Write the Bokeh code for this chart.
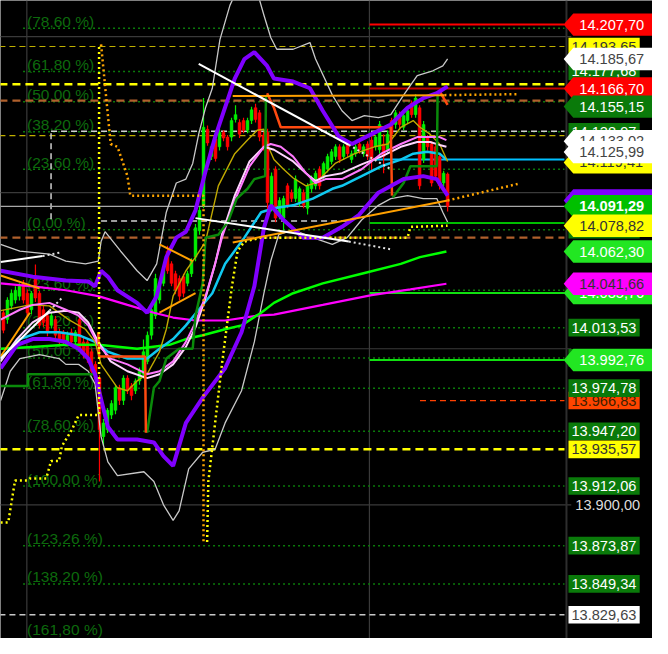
from bokeh.plotting import figure
from bokeh.embed import file_html
from bokeh.resources import INLINE
from bokeh.core.properties import value
from bokeh.models import ColumnDataSource

# ---------------- data (bar index, price) ----------------
opens = [14023.1, 14018.7, 14027.5, 14031.2, 14033.7, 14041.9, 14035.6, 14025.0, 14045.0, 14035.6,
         14025.0, 14021.2, 14015.0, 14018.7, 14010.6, 14010.6, 14004.4, 14010.6, 14004.4, 14018.7,
         14004.4, 14004.4, 13998.1, 13990.0, 13981.2, 13943.7, 13948.1, 13957.5, 13960.6, 13975.0,
         13966.9, 13981.2, 13976.2, 13973.1, 13979.4, 13983.7, 13991.9, 14008.7, 14021.2, 14031.2,
         14041.9, 14062.5, 14054.4, 14048.1, 14045.0, 14046.2, 14041.9, 14048.1, 14058.7, 14075.6,
         14091.9, 14140.6, 14123.1, 14134.4, 14129.4, 14138.7, 14135.6, 14135.6, 14146.9, 14145.0,
         14146.2, 14140.0, 14146.2, 14154.4, 14151.2, 14136.9, 14138.7, 14090.0, 14115.0, 14085.6,
         14083.7, 14104.4, 14100.0, 14096.2, 14093.7, 14100.0, 14090.0, 14102.5, 14104.4, 14115.0,
         14110.6, 14115.0, 14120.0, 14123.1, 14129.4, 14123.1, 14131.2, 14121.2, 14125.0, 14131.2,
         14125.0, 14131.2, 14133.7, 14129.4, 14127.5, 14131.2, 14127.5, 14146.2, 14143.7, 14150.0,
         14141.9, 14146.2, 14157.5, 14150.0, 14154.4, 14121.2, 14135.6, 14131.2, 14129.4, 14123.1,
         14106.2, 14111.9]
closes = [14011.9, 14031.2, 14035.6, 14037.5, 14040.0, 14031.2, 14023.1, 14035.6, 14032.5, 14015.0,
          14016.9, 14010.6, 14021.2, 14008.7, 14004.4, 14004.4, 14008.7, 14004.4, 14010.6, 14000.0,
          13996.2, 13993.7, 13985.6, 13981.2, 13948.1, 13952.5, 13960.6, 13965.0, 13975.0, 13966.9,
          13981.2, 13973.1, 13970.0, 13979.4, 13985.6, 13998.1, 14008.7, 14025.0, 14045.0, 14040.0,
          14050.0, 14050.0, 14041.9, 14037.5, 14033.7, 14035.6, 14048.1, 14056.2, 14077.5, 14088.7,
          14141.9, 14131.9, 14129.4, 14121.9, 14138.7, 14135.0, 14129.4, 14146.2, 14150.0, 14137.5,
          14140.0, 14146.2, 14153.1, 14146.9, 14135.6, 14129.4, 14093.7, 14110.6, 14083.7, 14095.0,
          14096.2, 14091.9, 14096.2, 14108.7, 14102.5, 14091.9, 14104.4, 14109.4, 14112.5, 14104.4,
          14118.7, 14123.1, 14126.2, 14129.4, 14121.2, 14129.4, 14125.0, 14125.0, 14129.4, 14127.5,
          14129.4, 14123.1, 14121.2, 14135.6, 14143.7, 14123.1, 14137.5, 14137.5, 14151.2, 14143.7,
          14149.4, 14152.5, 14150.0, 14160.6, 14104.4, 14143.7, 14129.4, 14106.2, 14110.6, 14104.4,
          14112.5, 14091.29]
highs = [14025, 14033, 14038, 14040, 14042, 14044, 14038, 14037, 14054, 14037,
         14028, 14023, 14023, 14021, 14013, 14012, 14011, 14013, 14012, 14021,
         14007, 14006, 14000, 13992, 13983, 13955, 13962, 13967, 13977, 13977,
         13983, 13983, 13978, 13981, 13988, 14006, 14011, 14027, 14048, 14042,
         14052, 14066, 14056, 14050, 14047, 14048, 14050, 14058, 14080, 14091,
         14160.6, 14143, 14131, 14136, 14141, 14140, 14137, 14148, 14156, 14147,
         14148, 14148, 14155, 14157, 14153, 14139, 14141, 14113, 14117, 14097,
         14098, 14106, 14102, 14111, 14104, 14102, 14106, 14111, 14114, 14117,
         14120, 14125, 14128, 14131, 14131, 14131, 14133, 14127, 14131, 14133,
         14131, 14133, 14136, 14137, 14146, 14137.5, 14140, 14148, 14153, 14152,
         14151, 14155, 14159, 14163, 14156, 14146, 14137, 14133, 14131, 14125,
         14114, 14113]
lows = [14010, 14016, 14025, 14029, 14031, 14029, 14021, 14022, 14030, 14013,
        14014, 14008, 14013, 14006, 14002, 14003, 14002, 14002, 14002, 13998,
        13994, 13991, 13983, 13979, 13915, 13938, 13946, 13955, 13958, 13964,
        13964, 13971, 13967, 13971, 13977, 13981, 13990, 14006, 14019, 14029,
        14040, 14048, 14040, 14035, 14031, 14033, 14040, 14046, 14056, 14073,
        14090, 14130, 14121, 14120, 14127, 14133, 14127, 14133, 14145, 14135,
        14138, 14138, 14144, 14145, 14133, 14127, 14088.7, 14088, 14081, 14083,
        14076, 14090, 14094, 14094, 14091, 14090, 14086, 14100, 14102, 14102,
        14108, 14113, 14118, 14121, 14119, 14121, 14123, 14119, 14123, 14125,
        14123, 14121, 14114, 14127, 14125, 14112.5, 14125, 14135, 14141, 14141,
        14140, 14144, 14148, 14148, 14102, 14119, 14127, 14104, 14108, 14102,
        14104, 14088]
bars = list(range(len(opens)))

# indicator curves (bar index, price)
pu_x = [-0.7, 7.3, 15.6, 21.2, 22.9, 24.4, 26.1, 28.5, 33.4, 35.9, 38.3, 40.7, 43.2, 45.6, 48.0, 50.5, 52.9, 57.8, 60.2, 62.7, 65.9, 67.6, 72.4, 76.6, 79.8, 83.9, 87.1, 92.0, 96.8, 101.0, 104.9, 108.3, 111.0]
pu_y = [14050.0, 14046.2, 14043.7, 14043.1, 14040.0, 14050.0, 14046.2, 14037.5, 14029.4, 14023.1, 14033.7, 14058.7, 14071.2, 14075.0, 14088.7, 14113.7, 14135.6, 14173.1, 14185.6, 14190.0, 14181.2, 14173.1, 14171.2, 14166.9, 14152.5, 14135.6, 14131.2, 14137.5, 14143.7, 14154.4, 14160.6, 14163.7, 14168.1]
pl_x = [-0.7, 3.4, 7.3, 11.5, 15.6, 18.8, 21.2, 22.9, 23.7, 26.1, 28.5, 33.4, 37.6, 40.0, 42.4, 45.6, 49.8, 55.4, 59.5, 62.7, 65.1, 66.8, 70.0, 74.9, 79.8, 84.6, 88.8, 93.7, 100.0, 104.9, 108.3, 111.0]
pl_y = [13987.5, 14002.5, 14006.2, 14006.2, 14004.4, 14000.0, 13993.7, 13983.7, 13975.0, 13950.0, 13941.9, 13941.9, 13940.0, 13931.2, 13925.0, 13952.5, 13968.7, 13987.5, 14010.6, 14040.0, 14077.5, 14091.9, 14082.5, 14071.2, 14071.2, 14078.1, 14085.6, 14100.0, 14108.7, 14110.6, 14108.7, 14098.1]
gu_x = [-0.7, 4.1, 11.5, 15.6, 20.5, 23.7, 24.4, 25.4, 29.3, 33.4, 35.9, 38.3, 40.7, 43.2, 45.6, 47.3, 48.8, 50.5, 52.2, 54.1, 56.6, 58.5, 63.2, 65.1, 66.8, 68.3, 72.4, 76.6, 78.0, 82.2, 84.6, 87.1, 90.2, 93.7, 96.8, 100.0, 103.4, 107.3, 109.8, 111.0]
gu_y = [14066.9, 14062.5, 14060.6, 14056.2, 14054.4, 14056.2, 14068.7, 14075.0, 14062.5, 14050.0, 14043.7, 14054.4, 14087.5, 14106.2, 14108.7, 14118.7, 14137.5, 14154.4, 14166.9, 14198.1, 14220.0, 14230.6, 14230.6, 14213.7, 14199.4, 14191.9, 14191.9, 14196.2, 14185.6, 14162.5, 14152.5, 14146.2, 14149.4, 14148.1, 14150.0, 14162.5, 14175.0, 14178.1, 14181.2, 14185.7]
gl_x = [-0.7, 1.7, 4.1, 9.0, 13.9, 15.6, 18.8, 21.2, 22.9, 24.4, 26.1, 28.5, 35.1, 37.6, 40.0, 42.4, 43.9, 46.3, 49.8, 52.9, 55.4, 59.5, 62.7, 65.1, 66.8, 68.8, 72.4, 77.3, 82.2, 85.9, 89.5, 93.7, 96.8, 101.0, 104.9, 108.3, 109.8, 111.0]
gl_y = [13966.9, 13985.6, 13993.7, 13996.2, 13993.7, 13990.0, 13990.0, 13985.6, 13977.5, 13943.7, 13927.5, 13918.7, 13921.2, 13915.0, 13900.0, 13890.0, 13896.2, 13923.1, 13933.7, 13935.6, 13952.5, 13973.1, 14004.4, 14035.6, 14056.2, 14073.1, 14076.2, 14071.2, 14066.9, 14071.2, 14082.5, 14091.9, 14096.2, 14098.1, 14096.2, 14096.2, 14087.5, 14081.2]
cy_x = [-0.7, 4.1, 9.0, 13.9, 18.8, 22.9, 26.1, 31.0, 35.9, 39.0, 42.4, 45.6, 48.8, 52.2, 55.4, 60.2, 64.4, 67.6, 72.4, 77.3, 82.2, 84.6, 89.5, 94.4, 99.3, 102.4, 105.9, 109.0, 110.7]
cy_y = [13993.7, 14006.2, 14010.6, 14010.6, 14008.7, 14004.4, 13998.1, 13993.7, 13993.7, 14000.0, 14006.2, 14015.0, 14025.0, 14035.6, 14054.4, 14071.2, 14087.5, 14090.0, 14091.9, 14096.2, 14102.5, 14104.4, 14110.6, 14116.9, 14121.2, 14125.0, 14126.2, 14125.0, 14121.2]
pk_x = [-0.7, 4.1, 7.3, 11.5, 15.6, 18.8, 21.2, 23.7, 26.8, 31.0, 35.9, 39.0, 42.4, 45.6, 48.0, 50.5, 52.9, 54.6, 57.8, 61.5, 65.1, 66.8, 69.3, 72.4, 75.6, 78.0, 80.5, 84.6, 89.5, 94.4, 99.3, 103.4, 109.0, 110.7]
pk_y = [14018.7, 14025.0, 14028.1, 14029.4, 14025.0, 14021.2, 14015.0, 14002.5, 13993.7, 13990.0, 13983.7, 13985.6, 13991.9, 14004.4, 14016.9, 14033.7, 14054.4, 14071.2, 14095.0, 14116.9, 14129.4, 14131.2, 14129.4, 14123.1, 14112.5, 14106.2, 14108.7, 14108.7, 14115.0, 14125.0, 14131.2, 14135.6, 14135.6, 14133.7]
lt_x = [-0.7, 3.4, 7.3, 11.5, 15.6, 18.8, 21.2, 23.7, 26.8, 31.0, 35.9, 39.0, 42.4, 45.6, 48.0, 50.5, 52.9, 54.6, 57.8, 61.5, 65.1, 67.6, 72.4, 75.6, 78.0, 80.5, 84.6, 89.5, 94.4, 99.3, 103.4, 106.6, 109.0, 110.7]
lt_y = [13991.9, 14006.2, 14016.9, 14023.1, 14024.4, 14023.1, 14016.9, 14004.4, 13991.9, 13985.6, 13981.2, 13983.7, 13990.0, 14001.2, 14013.7, 14032.5, 14054.4, 14073.1, 14098.1, 14120.0, 14129.4, 14127.5, 14120.0, 14112.5, 14107.5, 14110.6, 14112.5, 14118.1, 14123.1, 14129.4, 14132.5, 14132.5, 14130.6, 14129.4]
ol_x = [-0.7, 6.6, 11.5, 16.3, 20.5, 22.9, 24.4, 26.8, 28.5, 31.0, 33.4, 35.9, 39.0, 40.7, 42.4, 45.6, 48.0, 50.5, 53.7, 57.8, 61.0, 63.4, 65.1, 65.9, 67.6, 70.0, 72.4, 75.6, 78.0, 82.9, 87.8, 92.7, 96.1, 99.3, 102.4, 104.1, 106.6, 109.0, 111.0]
ol_y = [14024.4, 14028.1, 14027.5, 14018.7, 14012.5, 14004.4, 13990.0, 13981.2, 13975.0, 13973.1, 13979.4, 13983.7, 13998.1, 14012.5, 14033.7, 14050.0, 14058.7, 14068.7, 14104.4, 14125.0, 14133.7, 14140.0, 14140.6, 14131.2, 14121.2, 14115.0, 14109.4, 14104.4, 14106.2, 14118.7, 14125.0, 14129.4, 14131.2, 14141.9, 14146.2, 14141.9, 14137.5, 14131.2, 14120.0]
gr_x = [-0.7, 7.3, 15.6, 23.7, 33.4, 41.5, 45.6, 49.8, 55.4, 59.5, 64.4, 67.6, 72.4, 79.8, 89.5, 99.3, 104.1, 110.7]
gr_y = [14000.0, 14001.2, 14002.5, 14002.5, 14000.0, 14002.5, 14006.2, 14008.7, 14012.5, 14015.0, 14023.1, 14029.4, 14035.6, 14041.9, 14048.1, 14054.4, 14058.7, 14062.3]
mg_x = [-0.7, 7.3, 15.6, 23.7, 31.0, 37.6, 42.4, 48.0, 55.4, 63.4, 67.6, 79.8, 92.0, 101.7, 110.7]
mg_y = [14041.9, 14040.0, 14037.5, 14033.7, 14028.1, 14023.1, 14020.0, 14018.1, 14018.1, 14021.2, 14021.9, 14028.1, 14034.4, 14038.1, 14041.66]

# stop-and-reverse steps
sg_xs = [[-0.7, 6.1, 6.1, 22.9],
         [35.9, 37.6, 39.0, 40.7, 43.9, 47.3, 48.0, 49.8, 50.5, 53.7, 56.1, 58.3, 61.0, 62.7, 65.4, 65.6],
         [97.3, 100.0, 101.7, 108.3, 108.5]]
sg_ys = [[13976.2, 13976.2, 13983.7, 13983.7],
         [13946.2, 13975.0, 13979.4, 13993.7, 14000.0, 14000.0, 14021.2, 14041.9, 14071.2, 14073.1, 14081.2, 14096.2, 14102.5, 14108.7, 14110.6, 14161.8],
         [14096.9, 14106.2, 14116.9, 14116.9, 14162.5]]
sr_xs = [[23.7, 23.9, 35.4, 35.6], [65.9, 67.6, 69.3, 96.8, 97.1], [109.0, 111.0]]
sr_ys = [[14010.6, 13995.0, 13995.0, 13946.2], [14163.7, 14154.4, 14141.9, 14141.9, 14098.1], [14165.0, 14156.2]]
yd_xs = [[-0.7, 1.2, 2.9, 5.9, 6.6, 10.7, 11.9, 13.9, 14.6, 17.1, 18.8, 23.9, 23.9],
         [50.9, 51.2, 52.9, 54.6, 57.1, 58.5, 60.2, 64.4, 101.0, 101.7, 111.0]]
yd_ys = [[13888.7, 13888.7, 13915.6, 13915.6, 13916.9, 13916.9, 13928.1, 13928.1, 13937.5, 13948.1, 13957.5, 13957.5, 14195.0],
         [13876.2, 13915.0, 13952.5, 13990.0, 14040.0, 14062.5, 14068.7, 14071.2, 14071.2, 14078.1, 14078.82]]
od_xs = [[24.4, 26.8, 28.5, 31.0, 31.7, 50.0, 50.0], [111.0, 128.5], [110.2, 128.5]]
od_ys = [[14195.0, 14131.2, 14129.4, 14110.6, 14098.1, 14098.1, 13876.2], [14095.0, 14105.6], [14162.5, 14163.1]]

# trend lines
wt_xs = [[48.8, 86.3], [48.0, 86.3], [-0.7, 9.8], [-0.7, 11.5]]
wt_ys = [[14182.5, 14130.6], [14083.7, 14068.7], [14055.6, 14059.4], [13993.7, 14024.4]]
wd_xs = [[86.3, 96.8], [86.3, 96.8], [9.8, 14.6], [11.5, 14.6]]
wd_ys = [[14130.6, 14115.0], [14068.7, 14063.7], [14059.4, 14061.9], [14024.4, 14032.5]]
ot_xs = [[-0.7, 9.0], [-0.7, 6.6], [39.0, 47.3], [39.0, 48.0], [57.3, 111.0], [57.3, 110.2]]
ot_ys = [[14046.9, 14038.7], [13995.0, 14023.1], [14066.9, 14056.2], [14023.1, 14035.6], [14068.1, 14095.0], [14161.9, 14162.5]]

# fibonacci levels
fa_text = ["(78,60 %)", "(61,80 %)", "(50,00 %)", "(38,20 %)", "(23,60 %)", "(0,00 %)"]
fa_price = [14205.3, 14177.68, 14158.3, 14138.97, 14115.0, 14076.25]
fb_text = ["(23,60 %)", "(38,20 %)", "(50,00 %)", "(61,80 %)", "(78,60 %)", "(100,00 %)", "(123,26 %)", "(138,20 %)"]
fb_price = [14037.5, 14013.53, 13994.16, 13974.78, 13947.2, 13912.06, 13873.87, 13849.34]
fb_last_text = "(161,80 %)"
fb_last_price = 13810.6

# horizontal levels
grid_prices = [14200, 14100, 14000, 13900]
grid_bars = [5.85, 91.46]
last_price = 14091.29
dash_full = [14193.65, 14169.5, 14159.0, 14136.5, 14071.2, 13935.57, 13829.63]
dash_full_role = ["olive", "yellow", "brown", "olive", "brown", "yellow", "gray"]
solid_right = [14207.7, 14166.7, 14121.3, 14080.6, 14035.76, 13992.76]
solid_right_color = ["#ff0000", "#c00000", "#00c0ff", "#00c000", "#10e010", "#10e010"]

# price labels (drawn bottom first)
lab_text = ["14.177,68", "14.193,65", "14.207,70", "14.185,67", "14.166,70", "14.155,15", "14.138,97",
            "14.133,02", "14.119,41", "14.125,99", "14.095,02", "14.076,25", "14.091,29", "14.078,82",
            "14.062,30", "14.035,76", "14.041,66", "14.013,53", "13.994,16", "13.992,76", "13.966,83",
            "13.974,78", "13.947,20", "13.935,57", "13.912,06", "13.873,87", "13.849,34", "13.829,63"]
lab_price = [14177.68, 14193.65, 14207.70, 14185.67, 14166.70, 14155.15, 14138.97,
             14133.02, 14119.41, 14125.99, 14095.02, 14076.25, 14091.29, 14078.82,
             14062.30, 14035.76, 14041.66, 14013.53, 13994.16, 13992.76, 13966.83,
             13974.78, 13947.20, 13935.57, 13912.06, 13873.87, 13849.34, 13829.63]
lab_role = ["fib", "yellow_box", "red", "white", "red", "dkgreen", "fib",
            "white", "yellow", "white", "purple", "fib", "price", "yellow",
            "lime", "lime", "magenta", "fib", "fib", "lime", "orange_box",
            "fib", "fib", "yellow_box", "fib", "fib", "fib", "white_box"]

# ---------------- styles ----------------
STYLE = {
    "fib": ("box", "#0a7a0a", "#ffffff", "normal"),
    "yellow_box": ("box", "#ffff00", "#333333", "normal"),
    "white_box": ("box", "#ffffff", "#444444", "normal"),
    "orange_box": ("box", "#ff4500", "#402000", "normal"),
    "yellow": ("arrow", "#ffff00", "#333333", "normal"),
    "red": ("arrow", "#ff0000", "#ffffff", "normal"),
    "white": ("arrow", "#ffffff", "#444444", "normal"),
    "dkgreen": ("arrow", "#0a7a0a", "#ffffff", "normal"),
    "purple": ("arrow", "#8000ff", "#ffffff", "normal"),
    "price": ("arrow", "#00c000", "#ffffff", "bold"),
    "lime": ("arrow", "#22e622", "#ffffff", "normal"),
    "magenta": ("arrow", "#ff00ff", "#333333", "normal"),
}
DASH = {
    "olive": ("#c0b000", 1.2, "6 4"),
    "yellow": ("#ffff00", 2.5, "8 5"),
    "brown": ("#b0602c", 2.2, "8 5"),
    "gray": ("#c8c8c8", 1.5, "6 4"),
}
FONT = value("Liberation Sans")

W, H = 652, 638
X0, X1 = -0.732, 162.2
Y0, Y1 = 13814.375, 14223.125
XL, XR = -1.0, 140.2        # plot area in bars
PXY = (Y1 - Y0) / H         # price per pixel

p = figure(width=W, height=H, x_range=(X0, X1), y_range=(Y0, Y1),
           output_backend="svg", toolbar_location=None, min_border=0,
           x_axis_location=None, y_axis_location=None,
           background_fill_color="#000000", border_fill_color="#000000",
           outline_line_color=None)
p.xgrid.visible = False
p.ygrid.visible = False

# grid
p.segment(x0=[XL] * len(grid_prices), y0=grid_prices, x1=[141.9] * len(grid_prices), y1=grid_prices,
          line_color="#3a3a3a", line_width=1.2)
p.segment(x0=grid_bars, y0=[Y0] * 2, x1=grid_bars, y1=[Y1] * 2, line_color="#3a3a3a", line_width=1.2)
p.segment(x0=[140.7], y0=[Y0], x1=[140.7], y1=[Y1], line_color="#2e2e2e", line_width=2)

# fib dotted lines + labels
fib_all = fa_price + fb_price + [fb_last_price]
p.segment(x0=[4.9] * len(fib_all), y0=fib_all, x1=[XR] * len(fib_all), y1=fib_all,
          line_color="#0b7a0b", line_width=1.5, line_dash="2 3")
p.text(x=[5.9] * len(fa_text), y=fa_price, text=fa_text, text_font=FONT, text_font_size="15.5px",
       text_color="#0d6a0d", text_baseline="alphabetic", y_offset=-7)
p.text(x=[5.9] * len(fb_text), y=fb_price, text=fb_text, text_font=FONT, text_font_size="15.5px",
       text_color="#0d6a0d", text_baseline="alphabetic", y_offset=-7)
p.text(x=[5.9], y=[Y0], text=[fb_last_text], text_font=FONT, text_font_size="15.5px",
       text_color="#0d6a0d", text_baseline="bottom", y_offset=-1)

# dashed horizontal levels
for pr, role in zip(dash_full, dash_full_role):
    c, w, d = DASH[role]
    p.segment(x0=[XL], y0=[pr], x1=[XR], y1=[pr], line_color=c, line_width=w, line_dash=d)
p.segment(x0=[11.9], y0=[14139.4], x1=[XR], y1=[14139.4], line_color="#d0d0d0", line_width=1.5, line_dash="6 4")
p.segment(x0=[11.9], y0=[14083.0], x1=[11.9], y1=[14139.4], line_color="#d0d0d0", line_width=1.5, line_dash="6 4")
p.segment(x0=[24.4], y0=[14081.9], x1=[87.1], y1=[14081.9], line_color="#d0d0d0", line_width=1.5, line_dash="6 4")
p.segment(x0=[104.1], y0=[13966.83], x1=[XR], y1=[13966.83], line_color="#ff4000", line_width=1.2, line_dash="6 4")
p.segment(x0=[91.5] * len(solid_right), y0=solid_right, x1=[XR] * len(solid_right), y1=solid_right,
          line_color=solid_right_color, line_width=2)
p.segment(x0=[XL], y0=[last_price], x1=[XR], y1=[last_price], line_color="#a8a8a8", line_width=1.2)

# candles
up = [c >= o for o, c in zip(opens, closes)]
src = ColumnDataSource(dict(
    x=bars, hi=highs, lo=lows,
    top=[max(o, c) for o, c in zip(opens, closes)],
    bot=[min(o, c) for o, c in zip(opens, closes)],
    col=["#00ee00" if u else "#ff0000" for u in up]))
p.segment(x0="x", y0="lo", x1="x", y1="hi", line_color="col", line_width=1.2, source=src)
p.vbar(x="x", top="top", bottom="bot", width=0.72, fill_color="col", line_color="col", line_width=0.5, source=src)

# indicators
p.line(gu_x, gu_y, line_color="#c8c8c8", line_width=1.3)
p.line(gl_x, gl_y, line_color="#c8c8c8", line_width=1.3)
p.line(mg_x, mg_y, line_color="#ff00ff", line_width=2.2)
p.line(gr_x, gr_y, line_color="#00ff00", line_width=2.5)
p.line(cy_x, cy_y, line_color="#10c8f0", line_width=2.5)
p.line(ol_x, ol_y, line_color="#c0a800", line_width=1.4)
p.line(lt_x, lt_y, line_color="#ffd4ff", line_width=2)
p.line(pk_x, pk_y, line_color="#ff78ff", line_width=2)
p.multi_line(sg_xs, sg_ys, line_color="#0a8a0a", line_width=2.5)
p.multi_line(sr_xs, sr_ys, line_color="#ff4a10", line_width=2.5)
p.line(pu_x, pu_y, line_color="#8000ff", line_width=4)
p.line(pl_x, pl_y, line_color="#8000ff", line_width=4)
p.multi_line(yd_xs, yd_ys, line_color="#ffff00", line_width=2.5, line_dash="2 3")
p.multi_line(od_xs, od_ys, line_color="#ffa500", line_width=2.5, line_dash="2 3")
p.multi_line(ot_xs, ot_ys, line_color="#ffa000", line_width=2)
p.multi_line(wt_xs, wt_ys, line_color="#ffffff", line_width=2)
p.multi_line(wd_xs, wd_ys, line_color="#e0e0e0", line_width=2, line_dash="2 3")

# price scale labels
ah = 11.2 * PXY
bh = 8.8 * PXY
for t, pr, role in zip(lab_text, lab_price, lab_role):
    shape, fill, tc, fs = STYLE[role]
    if shape == "arrow":
        xs = [140.0, 142.4, 163.5, 163.5, 142.4]
        ys = [pr, pr + ah, pr + ah, pr - ah, pr - ah]
        tx = 143.9
    else:
        xs = [141.2, 159.0, 159.0, 141.2]
        ys = [pr + bh, pr + bh, pr - bh, pr - bh]
        tx = 141.95
    p.patch(xs, ys, fill_color=fill, line_color=None)
    p.text(x=[tx], y=[pr], text=[t], text_font=FONT, text_font_size="14.6px", text_color=tc,
           text_baseline="middle", text_align="left", text_font_style=fs)

p.text(x=[142.9], y=[13900.0], text=["13.900,00"], text_font=FONT, text_font_size="14.6px",
       text_color="#dcdcdc", text_baseline="middle", text_align="left")

open("out.html", "w").write(file_html(p, INLINE))
